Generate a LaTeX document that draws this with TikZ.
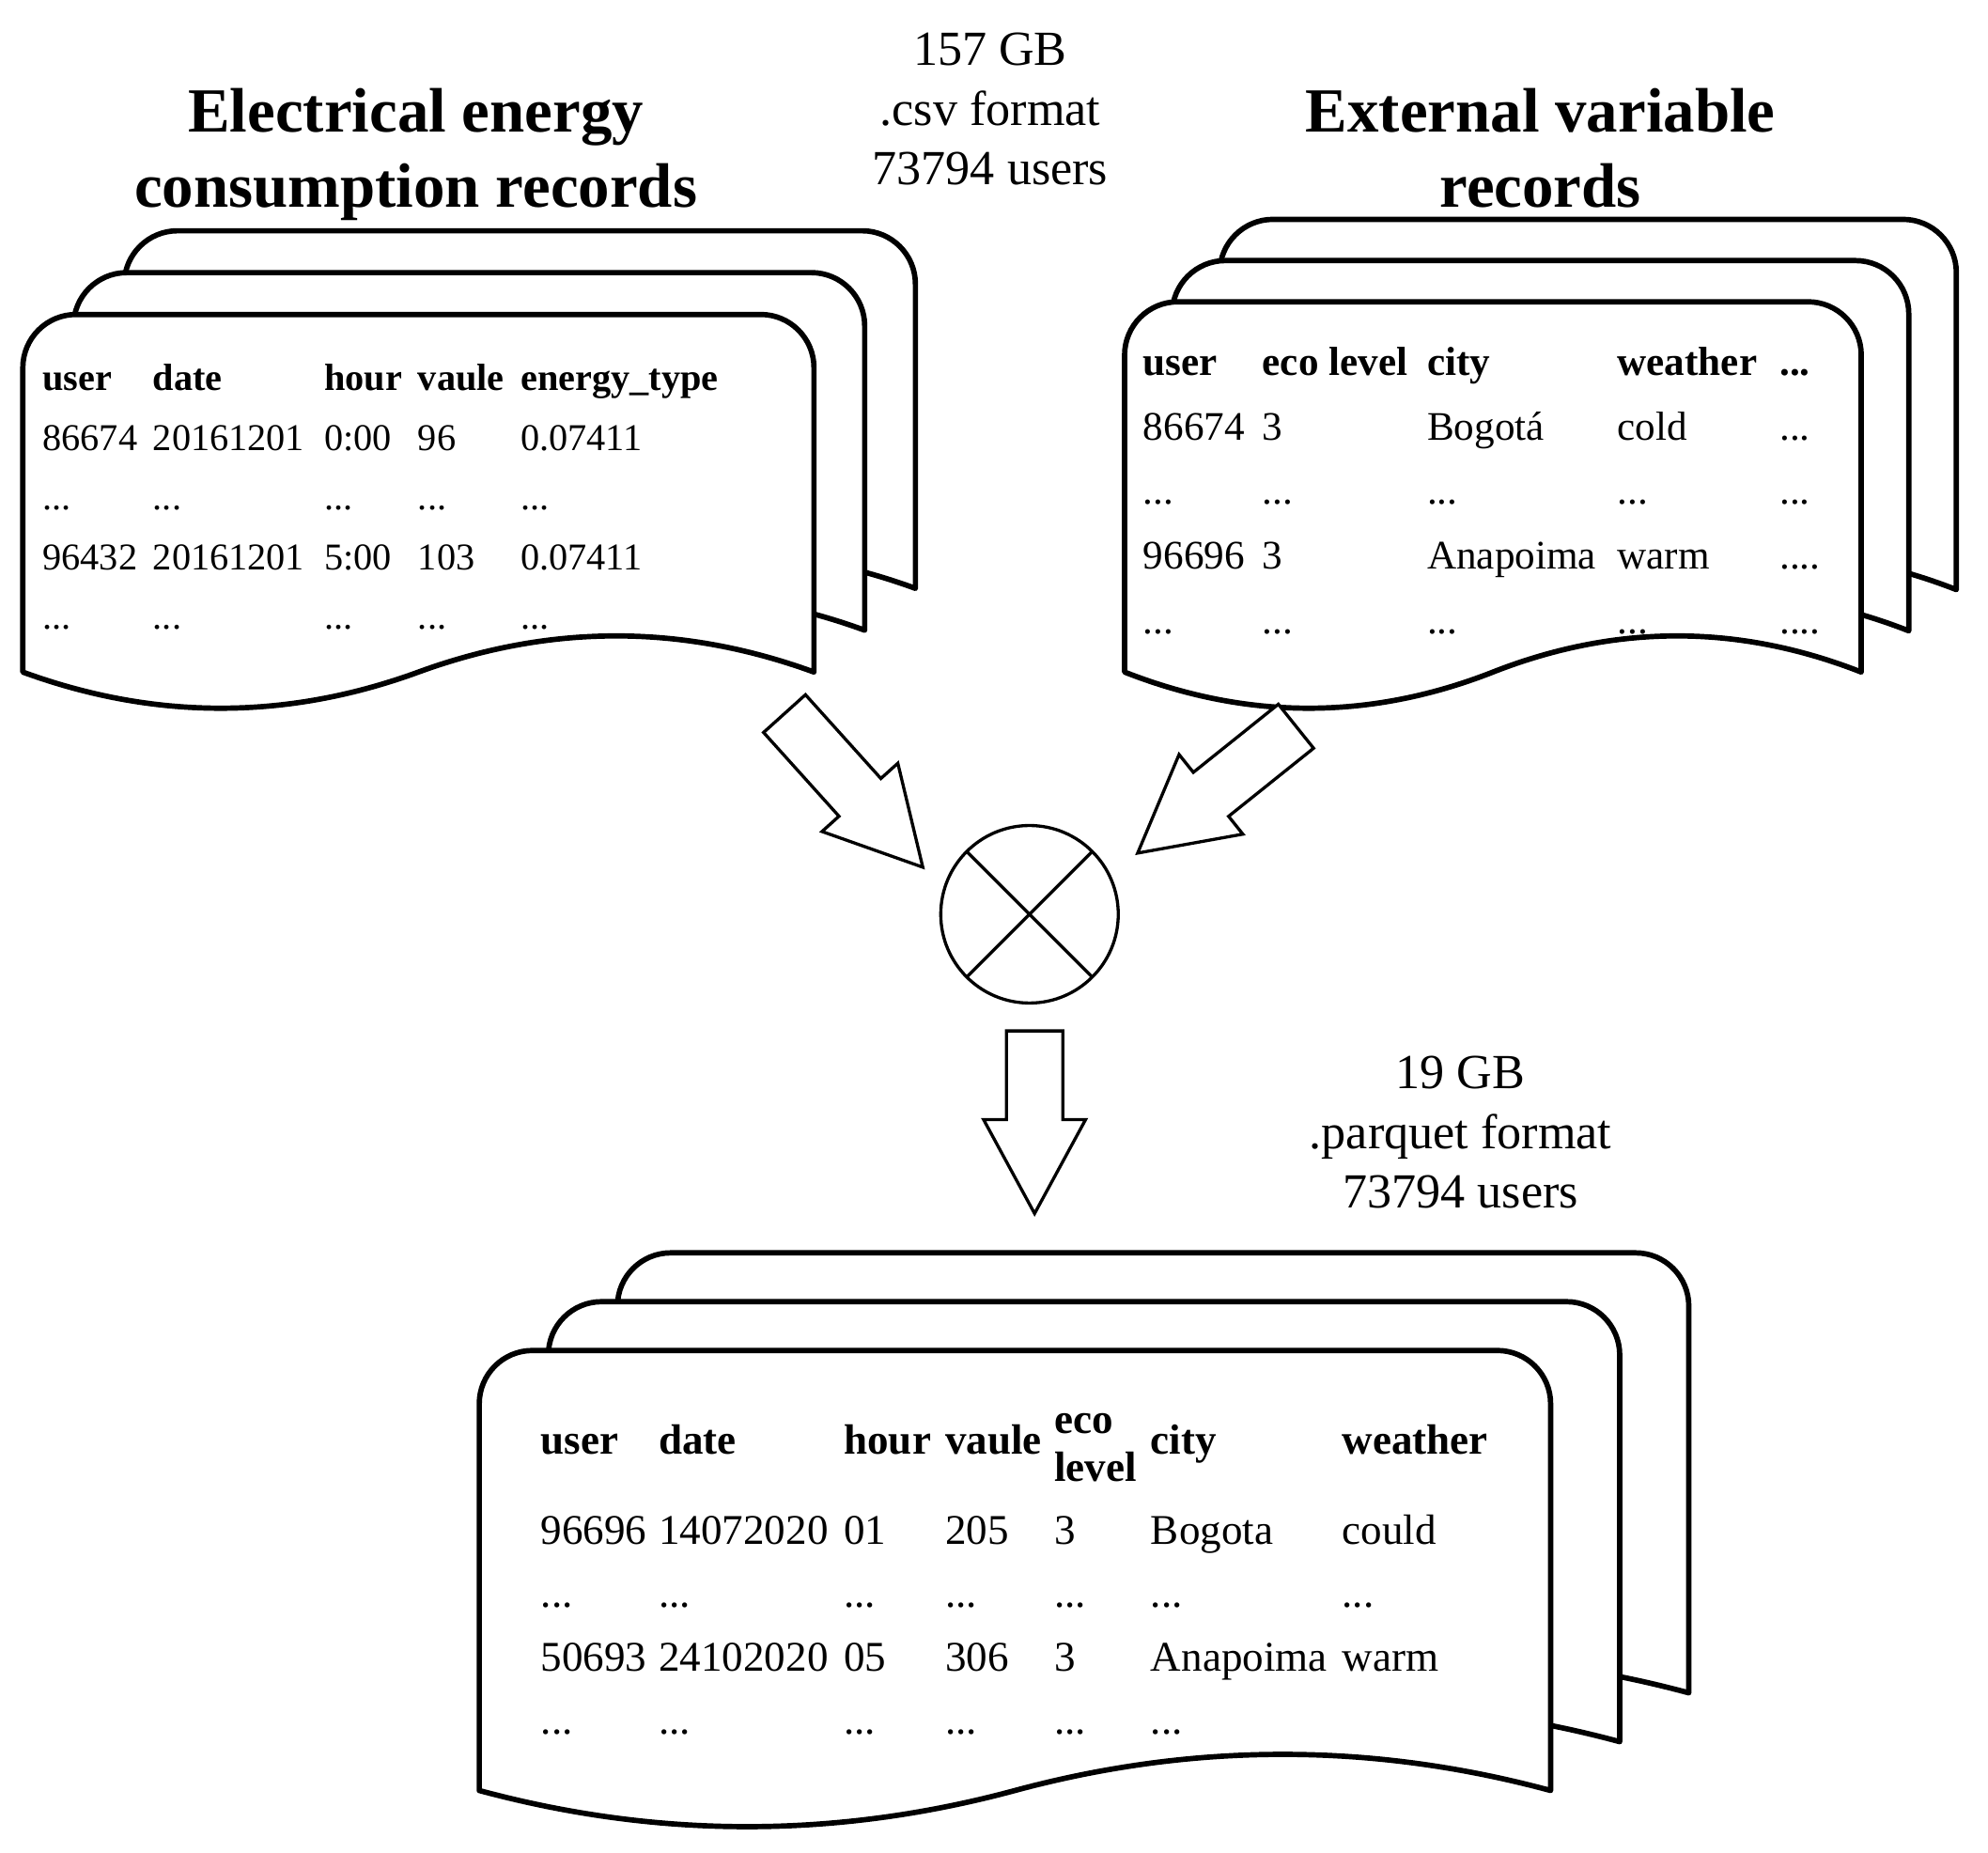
\documentclass[tikz,border=0pt]{standalone}
\usepackage{fontspec}
\setmainfont{Liberation Serif}
\usepackage{tikz}
\usetikzlibrary{
    positioning,
    calc,
    shapes.arrows
}
\setlength{\tabcolsep}{0pt}

% one sheet: left x, top y, width, height
\newcommand{\docsheet}[4]{%
  \draw[sheet] (#1,#2-#4) -- (#1,#2-0.42)
    arc[start angle=180, end angle=90, radius=0.42]
    -- (#1+#3-0.42,#2)
    arc[start angle=90, end angle=0, radius=0.42]
    -- (#1+#3,#2-#4)
    .. controls (#1+#3*5/6,#2-#4+0.38) and (#1+#3*2/3,#2-#4+0.38) .. (#1+#3/2,#2-#4)
    .. controls (#1+#3/3,#2-#4-0.38) and (#1+#3/6,#2-#4-0.38) .. (#1,#2-#4)
    -- cycle;}
% three sheets, back ones shifted by (dx,dy)
\newcommand{\docstack}[6]{%
  \docsheet{#1+2*#5}{#2+2*#6}{#3}{#4}%
  \docsheet{#1+#5}{#2+#6}{#3}{#4}%
  \docsheet{#1}{#2}{#3}{#4}}

\begin{document}
\begin{tikzpicture}[
    sheet/.style={draw, line width=1.2pt, fill=white, line join=round},
    bigarrow/.style={single arrow, draw, fill=white, line width=0.7pt, inner xsep=0pt, inner ysep=0.21cm, minimum width=0.78cm, single arrow head extend=0.18cm, single arrow tip angle=57, outer sep=0pt},
    title/.style={align=center, font=\fontsize{14.1}{16.8}\selectfont\bfseries},
    info/.style={align=center, font=\fontsize{11}{13.4}\selectfont},
    tbl/.style={anchor=base west, inner sep=0pt},
]
\useasboundingbox[fill=white] (0,0) rectangle (15.68,-14.61);

% document stacks
\docstack{0.18}{-2.48}{6.24}{2.82}{0.40}{0.33}
\docstack{8.87}{-2.38}{5.81}{2.92}{0.375}{0.325}
\docstack{3.78}{-10.65}{8.45}{3.47}{0.545}{0.385}

\node[title] (elecT) at (3.28,-1.22) {Electrical energy\\consumption records};
\node[title] (extT) at (12.15,-1.17) {External variable\\records};
\node[info] (csvInfo) at (7.81,-0.86) {157 GB\\.csv format\\73794 users};
\node[info] (pqInfo) at (11.52,-8.93) {19 GB\\.parquet format\\73794 users};

\node[tbl, font=\fontsize{8.5}{13.4}\selectfont] (elecTab) at (0.33,-3.08) {%
  \begin{tabular}[t]{p{0.87cm}p{1.35cm}p{0.74cm}p{0.81cm}l}
  \textbf{user} & \textbf{date} & \textbf{hour} & \textbf{vaule} & \textbf{energy\_type}\\
  86674 & 20161201 & 0:00 & 96 & 0.07411\\
  ... & ... & ... & ... & ...\\
  96432 & 20161201 & 5:00 & 103 & 0.07411\\
  ... & ... & ... & ... & ...
  \end{tabular}};

\node[tbl, font=\fontsize{9.1}{14.5}\selectfont] (extTab) at (9.01,-2.96) {%
  \begin{tabular}[t]{p{0.94cm}p{1.30cm}p{1.50cm}p{1.28cm}l}
  \textbf{user} & \textbf{eco level} & \textbf{city} & \textbf{weather} & \textbf{...}\\
  86674 & 3 & Bogotá & cold & ...\\
  ... & ... & ... & ... & ...\\
  96696 & 3 & Anapoima & warm & ....\\
  ... & ... & ... & ... & ....
  \end{tabular}};

\node[tbl, font=\fontsize{9.5}{14.2}\selectfont] (mergedTab) at (4.26,-11.47) {%
  \begin{tabular}[t]{p{0.93cm}p{1.46cm}p{0.80cm}p{0.86cm}p{0.76cm}p{1.51cm}l}
  \textbf{user} & \textbf{date} & \textbf{hour} & \textbf{vaule} &
    \begin{tabular}[c]{@{}l@{}}\textbf{eco}\\[-0.12cm]\textbf{level}\end{tabular} &
    \textbf{city} & \textbf{weather}\\
  96696 & 14072020 & 01 & 205 & 3 & Bogota & could\\
  ... & ... & ... & ... & ... & ... & ...\\
  50693 & 24102020 & 05 & 306 & 3 & Anapoima & warm\\
  ... & ... & ... & ... & ... & ... &
  \end{tabular}};

% merge
\node[circle, draw, line width=0.7pt, minimum size=1.40cm, inner sep=0pt, outer sep=0pt] (merge) at (8.12,-7.21) {};
\draw[line width=0.7pt] (merge.north west) -- (merge.south east);
\draw[line width=0.7pt] (merge.north east) -- (merge.south west);

% block arrows
\node[bigarrow, rotate=-48, minimum height=1.63cm, anchor=tip] (arrL) at ($(merge)+(156.2:0.92)$) {};
\node[bigarrow, rotate=-141.3, minimum height=1.60cm, anchor=tip] (arrR) at ($(merge)+(29.5:0.98)$) {};
\node[bigarrow, rotate=-90, minimum height=1.44cm, anchor=tail] (arrD) at ([xshift=0.04cm, yshift=-0.22cm]merge.south) {};
\end{tikzpicture}
\end{document}
